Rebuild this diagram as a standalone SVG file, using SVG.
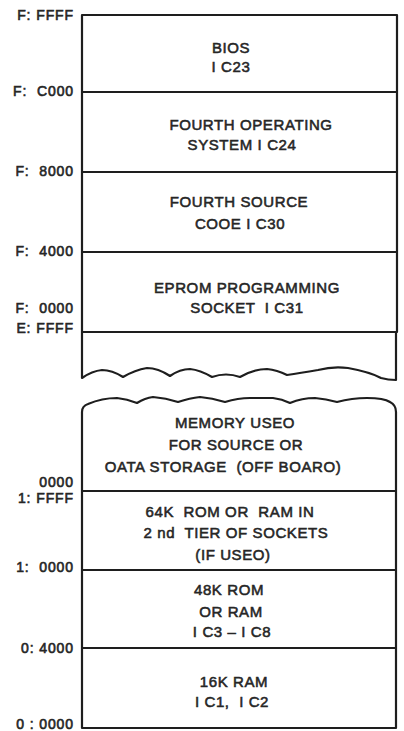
<svg xmlns="http://www.w3.org/2000/svg" width="404" height="731" viewBox="0 0 404 731">
<style>
.bg{fill:#ffffff}
.box{fill:none;stroke:#1e1e1e;stroke-width:2.2;stroke-linejoin:round}
.t{font-family:"Liberation Sans",Arial,sans-serif;font-size:15px;fill:#262626;stroke:#262626;stroke-width:0.55;text-anchor:middle;letter-spacing:0.6px;white-space:pre}
.a{font-family:"Liberation Sans",Arial,sans-serif;font-size:14px;fill:#262626;stroke:#262626;stroke-width:0.6;text-anchor:end;letter-spacing:0.9px;white-space:pre}
</style>
<rect class="bg" x="0" y="0" width="404" height="731"/>
<g id="bios">
<rect class="box" x="82" y="15" width="315" height="77"/>
<text class="t" x="231" y="53">BIOS</text>
<text class="t" x="231" y="72">I C23</text>
</g>
<g id="fourth-os">
<rect class="box" x="82" y="92" width="315" height="80"/>
<text class="t" x="251" y="130">FOURTH OPERATING</text>
<text class="t" x="242" y="150">SYSTEM I C24</text>
</g>
<g id="fourth-source">
<rect class="box" x="82" y="172" width="315" height="80"/>
<text class="t" x="239" y="207">FOURTH SOURCE</text>
<text class="t" x="240" y="229">COOE I C30</text>
</g>
<g id="eprom">
<rect class="box" x="82" y="252" width="315" height="80"/>
<text class="t" x="247" y="293">EPROM PROGRAMMING</text>
<text class="t" x="247" y="313">SOCKET  I C31</text>
</g>
<g id="gap-upper">
<path class="box" d="M82,332 V378 Q92,371 102,370 Q112,370 123,377 Q135,370 147,368 Q158,368 170,376 Q180,369 190,369 Q200,370 212,377 Q226,372 240,377 Q254,369 267,369 Q277,370 287,375 Q300,373 318,370 Q333,366 348,368 Q370,372 381,378 Q388,380 396,380 V332"/>
</g>
<g id="memory-off-board">
<path class="box" d="M82,491 V412 Q82,406 88,404 Q102,398 117,398 Q127,399 137,403 Q145,398 153,397 Q166,398 178,402 Q190,398 200,397 Q212,398 225,402 Q238,398 250,398 Q262,398 273,398 Q282,399 290,403 Q302,398 315,398 Q326,399 337,402 Q352,398 367,398 Q384,398 390,402 Q396,405 396,412 V491"/>
<text class="t" x="235" y="428">MEMORY USEO</text>
<text class="t" x="236" y="450">FOR SOURCE OR</text>
<text class="t" x="223" y="472">OATA STORAGE  (OFF BOARO)</text>
</g>
<g id="rom-ram-64k">
<rect class="box" x="82" y="491" width="314" height="79"/>
<text class="t" x="230" y="517">64K  ROM OR  RAM IN</text>
<text class="t" x="236" y="538">2 nd  TIER OF SOCKETS</text>
<text class="t" x="233" y="560">(IF USEO)</text>
</g>
<g id="rom-ram-48k">
<rect class="box" x="82" y="570" width="314" height="78"/>
<text class="t" x="229" y="595">48K ROM</text>
<text class="t" x="231" y="617">OR RAM</text>
<text class="t" x="232" y="637">I C3 – I C8</text>
</g>
<g id="ram-16k">
<rect class="box" x="82" y="648" width="314" height="80"/>
<text class="t" x="234" y="687">16K RAM</text>
<text class="t" x="232" y="707">I C1,  I C2</text>
</g>
<g id="addresses">
<text class="a" x="74" y="20">F: FFFF</text>
<text class="a" x="74" y="96">F:  C000</text>
<text class="a" x="74" y="176">F:  8000</text>
<text class="a" x="74" y="256">F:  4000</text>
<text class="a" x="74" y="313">F:  0000</text>
<text class="a" x="74" y="333">E: FFFF</text>
<text class="a" x="74" y="487">0000</text>
<text class="a" x="74" y="503">1: FFFF</text>
<text class="a" x="74" y="572">1:  0000</text>
<text class="a" x="74" y="653">0: 4000</text>
<text class="a" x="74" y="729">0 : 0000</text>
</g>
</svg>
